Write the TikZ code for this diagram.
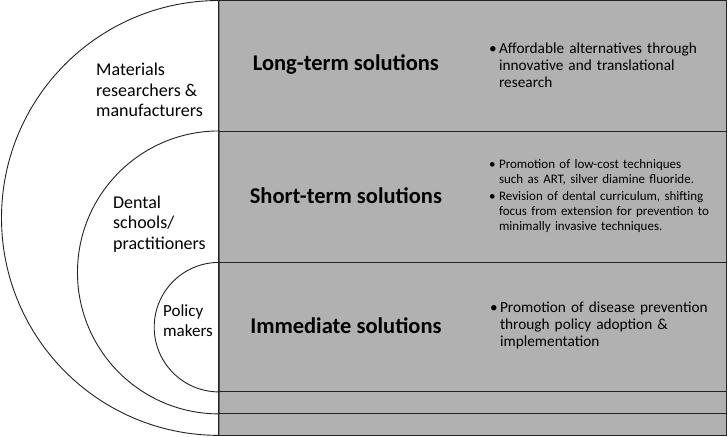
\documentclass[tikz,border=0pt]{standalone}
\usepackage{fontspec}
\setmainfont{Carlito}
\usepackage{tikz}
\usetikzlibrary{positioning}
\definecolor{panelgray}{RGB}{177,177,177}
\definecolor{edgegray}{RGB}{35,35,35}
\newcommand{\bpoint}[1]{\hangindent=10pt\hangafter=1\noindent\makebox[10pt][l]{\textbullet}#1\par}

\begin{document}
\begin{tikzpicture}[x=1pt,y=1pt,
    ring/.style={draw=edgegray, line width=0.9pt, fill=white},
    rule/.style={draw=edgegray, line width=0.9pt},
    title/.style={font=\fontsize{22.5}{26}\selectfont\bfseries},
    who/.style={anchor=west, align=left, inner sep=0pt, font=\fontsize{18}{20.5}\selectfont},
    points/.style={anchor=west, align=left, inner sep=0pt, text width=238pt}]
      % sizes
      \pgfmathsetmacro{\xcut}{219}
      \pgfmathsetmacro{\xend}{727}

      % background and panel
      \fill[white] (0,0) rectangle (728,437);
      \fill[panelgray] (\xcut,1) rectangle (\xend,436.5);

      % half rings
      \path[ring] (\xcut,436.5) arc[start angle=90, end angle=270, radius=217.5] -- cycle;
      \path[ring] (\xcut,306) arc[start angle=90, end angle=270, radius=141.5] -- cycle;
      \path[ring] (\xcut,174.5) arc[start angle=90, end angle=270, radius=64.75] -- cycle;

      % rows
      \draw[rule] (\xcut,306) -- (\xend,306);
      \draw[rule] (\xcut,174.5) -- (\xend,174.5);
      \draw[rule] (\xcut,45) -- (\xend,45);
      \draw[rule] (\xcut,23) -- (\xend,23);
      \draw[rule] (\xcut,1) rectangle (\xend,436.5);

      % labels
      \node[who] (mat) at (96,347) {Materials\\researchers \&\\manufacturers};
      \node[who] (dent) at (113,213) {Dental\\schools/\\practitioners};
      \node[who, font=\fontsize{17}{20}\selectfont] (pol) at (163,116.5) {Policy\\makers};

      \node[title] (longt) at (346,372) {Long-term solutions};
      \node[title] (shortt) at (346,241) {Short-term solutions};
      \node[title] (immt) at (346,111) {Immediate solutions};

      % bullets
      \node[points, font=\fontsize{15.3}{16.8}\selectfont] (longp) at (489,372)
        {\bpoint{Affordable alternatives through\newline innovative and translational\newline research}};
      \node[points, font=\fontsize{13}{15}\selectfont] (shortp) at (489,241)
        {\bpoint{Promotion of low-cost techniques\newline such as ART, silver diamine fluoride.}
         \vspace{2pt}
         \bpoint{Revision of dental curriculum, shifting\newline focus from extension for prevention to\newline minimally invasive techniques.}};
      \node[points, font=\fontsize{15.3}{17}\selectfont] (immp) at (490,111)
        {\bpoint{Promotion of disease prevention\newline through policy adoption \&\newline implementation}};
\end{tikzpicture}
\end{document}
